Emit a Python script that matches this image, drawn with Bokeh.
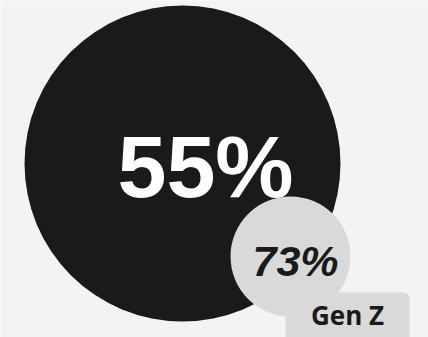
from bokeh.plotting import figure
from bokeh.models import Range1d, BoxAnnotation, ColumnDataSource
from bokeh.core.properties import value
from bokeh.embed import file_html
from bokeh.resources import INLINE

# data
overall_value = [55]
segment_value = [73]
segment_label = ["Gen Z"]

W, H = 428, 337
p = figure(width=W, height=H, output_backend="svg", toolbar_location=None,
           x_range=Range1d(0, W), y_range=Range1d(0, H), min_border=0)
p.axis.visible = False
p.grid.visible = False
p.outline_line_color = None
p.background_fill_color = "#f3f3f3"
p.border_fill_color = "#f3f3f3"

def Y(py):
    return H - py

big = ColumnDataSource(dict(x=[182], y=[Y(163)], r=[158],
                            t=[f"{v}%" for v in overall_value]))
small = ColumnDataSource(dict(x=[290], y=[Y(256)], r=[60],
                              t=[f"{v}%" for v in segment_value]))

p.circle(x="x", y="y", radius="r", source=big, fill_color="#1a1a1a", line_color=None)
p.text(x=205, y=Y(166), text="t", source=big, text_color="white",
       text_font=value("Liberation Sans"), text_font_style="bold",
       text_font_size="88px", text_align="center", text_baseline="alphabetic")

p.circle(x="x", y="y", radius="r", source=small, fill_color="#d9d9d9", line_color=None)

box = BoxAnnotation(left=285, right=409, top=Y(292), bottom=Y(345),
                    fill_color="#d9d9d9", fill_alpha=1, line_color=None,
                    border_radius=6, level="underlay")
p.add_layout(box)

p.text(x=295, y=Y(260), text="t", source=small, text_color="#1a1a1a",
       text_font=value("Liberation Sans"), text_font_style="bold italic",
       text_font_size="43px", text_align="center", text_baseline="alphabetic")

p.text(x=[347], y=[Y(314)], text=segment_label, text_color="#1a1a1a",
       text_font=value("Open Sans"), text_font_style="bold",
       text_font_size="26px", text_align="center", text_baseline="alphabetic")

open("out.html", "w").write(file_html(p, INLINE))
